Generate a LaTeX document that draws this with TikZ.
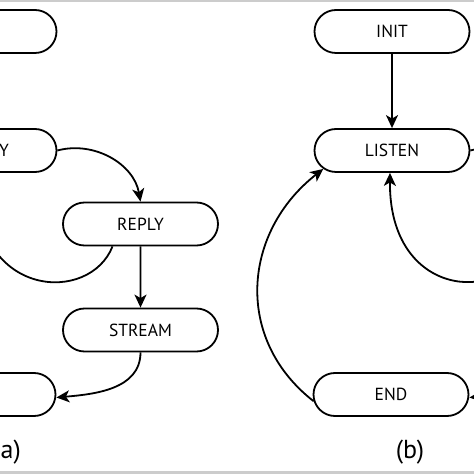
\documentclass[tikz,border=0pt]{standalone}
\usepackage{fontspec}
\setmainfont{PT Sans}
\usetikzlibrary{shapes.misc,arrows.meta}
\begin{document}
\begin{tikzpicture}[x=1pt,y=1pt,
  state/.style={rounded rectangle, draw, line width=1.8pt, minimum width=155pt,
    minimum height=43pt, inner sep=0pt, font=\fontsize{17.5}{20}\selectfont},
  edge/.style={line width=1.8pt, -{Stealth[length=13pt,width=12pt,inset=3.5pt]}},
  lbl/.style={inner sep=0pt, font=\fontsize{26}{30}\selectfont},
  band/.style={fill=black!20, draw=none}]
\useasboundingbox (0,0) rectangle (474,474);
\clip (0,0) rectangle (474,474);
\fill[white] (0,0) rectangle (474,474);
\path[band] (0,471.5) rectangle (474,474);
\path[band] (0,0) rectangle (474,3);
% (a)
\node[state] (L1) at (-21,442.5) {};
\node[state] (L2) at (-21,323.5) {};
\node[inner sep=0pt, anchor=east, font=\fontsize{17.5}{20}\selectfont] (ytxt) at (9,323.5) {Y};
\node[state] (REPLY) at (140.5,250) {REPLY};
\node[state] (STREAM) at (140.5,144) {STREAM};
\node[state] (L5) at (-22,79.5) {};
\draw[edge] (L2.east) to[out=15,in=100] (REPLY.north);
\draw[edge] ([xshift=-28pt]REPLY.south) .. controls (90,170) and (-24,175) .. ([xshift=-3pt]L2.south);
\draw[edge] (REPLY) -- (STREAM);
\draw[edge] (STREAM.south) to[out=-90,in=5] ([yshift=-3pt]L5.east);
\node[lbl, anchor=west] (la) at (0.5,22) {a)};
% (b)
\node[state] (INIT) at (392,442.5) {INIT};
\node[state] (LISTEN) at (392,323.5) {LISTEN};
\node[state] (END) at (391,79.5) {END};
\coordinate (R3top) at (553,271.5);
\coordinate (R3bot) at (525,228.5);
\coordinate (R4bot) at (554,122.5);
\draw[edge] (INIT) -- (LISTEN);
\draw[edge] (LISTEN.east) to[out=15,in=100] (R3top);
\draw[edge] (R3bot) .. controls (503,170) and (389,175) .. ([xshift=-2pt]LISTEN.south);
\draw[edge] (R4bot) to[out=-90,in=5] ([yshift=-3pt]END.east);
\draw[edge] (END.185) to[out=142,in=218,looseness=1.12] (LISTEN.195);
\node[lbl] (lb) at (410,22) {(b)};
\end{tikzpicture}
\end{document}
